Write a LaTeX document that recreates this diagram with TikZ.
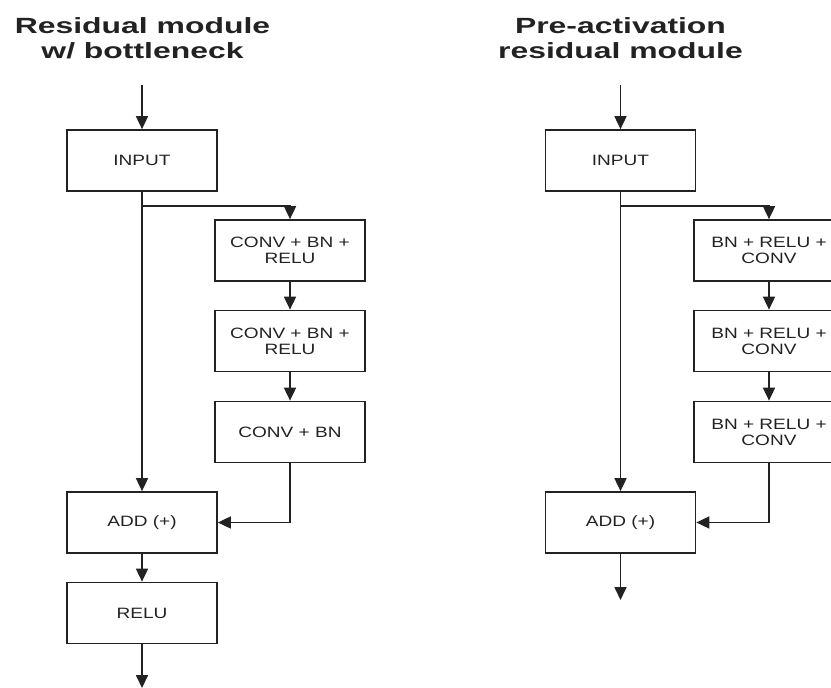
\documentclass[tikz,border=0pt]{standalone}
\usepackage{fontspec}
\setmainfont{Liberation Sans}
\newfontfamily\boxfont[FakeStretch=1.27]{Liberation Sans}
\newfontfamily\titlefont[FakeStretch=1.45]{Liberation Sans}
\usetikzlibrary{arrows.meta}
\definecolor{ink}{HTML}{222222}
\begin{document}
\begin{tikzpicture}[x=1pt,y=-1pt,
  blk/.style={draw=ink, line width=1.7pt, minimum width=150pt, minimum height=61pt,
    inner sep=0pt, align=center, text=ink, font=\boxfont\fontsize{15}{16}\selectfont},
  ttl/.style={align=center, text=ink, font=\titlefont\bfseries\fontsize{22}{25}\selectfont},
  con/.style={draw=ink, line width=1.7pt, -{Triangle[length=13pt,width=12pt]}}]
\useasboundingbox (0,0) rectangle (831,688);
\clip (0,0) rectangle (831,688);
% titles
\node[ttl] (t1) at (142.5,38) {Residual module\\w/ bottleneck};
\node[ttl] (t2) at (620.5,38) {Pre-activation\\residual module};
% left
\coordinate (lin) at (142,85);
\node[blk] (inL) at (142,160.5) {INPUT};
\node[blk] (c1) at (290,250.5) {CONV + BN +\\RELU};
\node[blk] (c2) at (290,341) {CONV + BN +\\RELU};
\node[blk] (c3) at (290,432) {CONV + BN};
\node[blk] (addL) at (142,522.5) {ADD (+)};
\node[blk] (relu) at (142,613) {RELU};
\coordinate (lout) at (142,688);
\coordinate (bL) at (142,206);
\draw[con] (lin) -- (inL.north);
\draw[con] (inL.south) -- (addL.north);
\draw[con] (bL) -| (c1.north);
\draw[con] (c1.south) -- (c2.north);
\draw[con] (c2.south) -- (c3.north);
\draw[con] (c3.south) |- (addL.east);
\draw[con] (addL.south) -- (relu.north);
\draw[con] (relu.south) -- (lout);
% right
\coordinate (rin) at (620.5,85);
\node[blk] (inR) at (620.5,160.5) {INPUT};
\node[blk] (b1) at (769,250.5) {BN + RELU +\\CONV};
\node[blk] (b2) at (769,341) {BN + RELU +\\CONV};
\node[blk] (b3) at (769,432) {BN + RELU +\\CONV};
\node[blk] (addR) at (620.5,522.5) {ADD (+)};
\coordinate (rout) at (620.5,600);
\coordinate (bR) at (620.5,206);
\draw[con] (rin) -- (inR.north);
\draw[con] (inR.south) -- (addR.north);
\draw[con] (bR) -| (b1.north);
\draw[con] (b1.south) -- (b2.north);
\draw[con] (b2.south) -- (b3.north);
\draw[con] (b3.south) |- (addR.east);
\draw[con] (addR.south) -- (rout);
\end{tikzpicture}
\end{document}
